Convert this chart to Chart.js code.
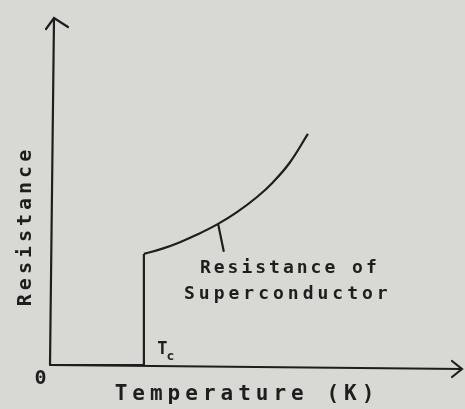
<!DOCTYPE html>
<html>
<head>
<meta charset="utf-8">
<script src="https://cdn.jsdelivr.net/npm/chart.js@4"></script>
<style>
  html, body { margin: 0; padding: 0; background: #d8d8d5; }
  #wrap { width: 465px; height: 409px; }
</style>
</head>
<body>
<div id="wrap"><canvas id="chart-area"></canvas></div>
<script>
	// data (arbitrary units)
	var tcValue = 22.9;
	// zero resistance below Tc, then the jump
	var stepTemperature = [0, 22.9, 22.9];
	var stepResistance = [0, 0, 32.2];
	// normal-state curve above Tc
	var curveTemperature = [22.9, 27.6, 31.7, 35.9, 41.0, 45.6, 50.5, 54.4, 58.5, 62.9];
	var curveResistance = [32.2, 33.8, 35.6, 37.8, 40.9, 44.3, 48.7, 53.0, 58.7, 67.0];
	var pointerFrom = [41.0, 40.9];
	var pointerTo = [42.4, 32.8];
	var curveLabel = ["Resistance of", "Superconductor"];
	var xTitle = "Temperature (K)";
	var yTitle = "Resistance";

	init();

function toPoints (xs, ys) {
	return xs.map(function (t, i) { return { x: t, y: ys[i] }; });
}

function init () {
	var ink = "#1e1e1e";

	var sketchPlugin = {
		id: 'sketch',
		afterDraw: function (chart) {
			var ctx = chart.ctx;
			var xs = chart.scales.x, ys = chart.scales.y;
			var ox = xs.getPixelForValue(0), oy = ys.getPixelForValue(0);
			var top = chart.chartArea.top, right = chart.chartArea.right;
			ctx.save();
			ctx.strokeStyle = ink;
			ctx.fillStyle = ink;
			ctx.lineWidth = 2.2;
			ctx.lineCap = 'round';
			// axes with arrows
			ctx.beginPath();
			ctx.moveTo(ox, oy); ctx.lineTo(ox + 4, top - 2);
			ctx.moveTo(ox - 4, top + 9); ctx.lineTo(ox + 4, top - 2); ctx.lineTo(ox + 18, top + 7);
			ctx.moveTo(ox, oy); ctx.lineTo(right + 2, oy + 4);
			ctx.moveTo(right - 8, oy - 4); ctx.lineTo(right + 2, oy + 4); ctx.lineTo(right - 8, oy + 12);
			ctx.stroke();

			ctx.textAlign = 'center';
			ctx.textBaseline = 'middle';
			ctx.font = 'bold 20px "DejaVu Sans Mono"';
			ctx.letterSpacing = '1px';
			ctx.fillText('0', ox - 9, oy + 14);
			// Tc
			var tx = xs.getPixelForValue(tcValue);
			ctx.font = 'bold 17px "DejaVu Sans Mono"';
			ctx.fillText('T', tx + 19, oy - 15);
			ctx.font = 'bold 13px "DejaVu Sans Mono"';
			ctx.fillText('c', tx + 27, oy - 8);
			// curve label
			var lx = xs.getPixelForValue(pointerTo[0]) + 64;
			var ly = ys.getPixelForValue(pointerTo[1]);
			ctx.font = 'bold 18px "DejaVu Sans Mono"';
			ctx.letterSpacing = '3px';
			ctx.fillText(curveLabel[0], lx + 2, ly + 16);
			ctx.letterSpacing = '4px';
			ctx.fillText(curveLabel[1], lx, ly + 42);
			// axis titles
			ctx.font = 'bold 21px "DejaVu Sans Mono"';
			ctx.letterSpacing = '5px';
			ctx.fillText(xTitle, 247, oy + 30);
			ctx.font = 'bold 20px "DejaVu Sans Mono"';
			ctx.letterSpacing = '4px';
			ctx.translate(26, 226);
			ctx.rotate(-Math.PI / 2);
			ctx.fillText(yTitle, 0, 0);
			ctx.restore();
		}
	};

	var config = {
		type: 'scatter',
		data: {
			datasets: [{
				data: toPoints(stepTemperature, stepResistance),
				showLine: true,
				borderColor: ink,
				borderWidth: 2.2,
				pointRadius: 0,
				tension: 0
			}, {
				data: toPoints(curveTemperature, curveResistance),
				showLine: true,
				borderColor: ink,
				borderWidth: 2.2,
				pointRadius: 0,
				tension: 0.4
			}, {
				data: toPoints([pointerFrom[0], pointerTo[0]], [pointerFrom[1], pointerTo[1]]),
				showLine: true,
				borderColor: ink,
				borderWidth: 2.2,
				pointRadius: 0
			}]
		},
		options: {
			responsive: true,
			maintainAspectRatio: false,
			animation: false,
			layout: { padding: { top: 20, right: 5 } },
			plugins: { legend: { display: false }, tooltip: { enabled: false } },
			scales: {
				x: {
					type: 'linear', min: 0, max: 100,
					grid: { display: false }, border: { display: false },
					ticks: { display: false },
					afterFit: function (s) { s.height = 44; }
				},
				y: {
					type: 'linear', min: 0, max: 100,
					grid: { display: false }, border: { display: false },
					ticks: { display: false },
					afterFit: function (s) { s.width = 50; }
				}
			}
		},
		plugins: [sketchPlugin]
	};

	var ctx = document.getElementById("chart-area").getContext("2d");
	window.myChart = new Chart(ctx, config);
}
</script>
</body>
</html>
